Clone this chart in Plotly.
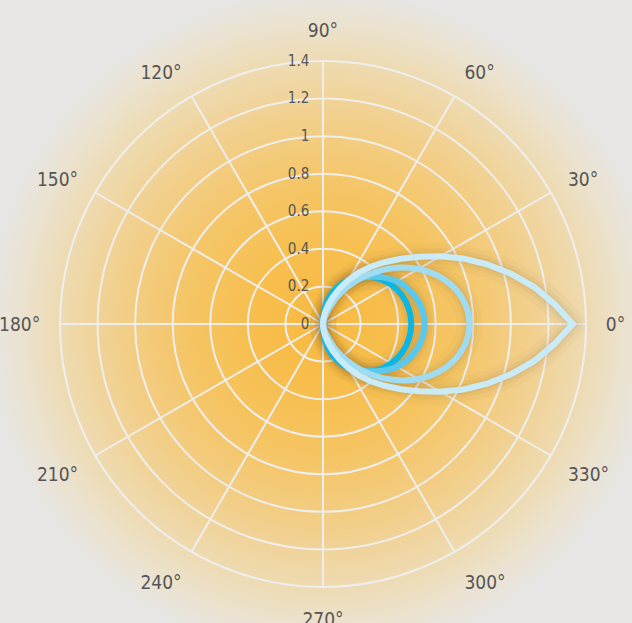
import base64
import plotly.graph_objects as go

# ---- data ----
theta_fine = [-90, -85, -80, -75, -70, -65, -60, -55, -50, -45, -40, -35, -30, -25, -20, -15, -10, -5,
              0, 5, 10, 15, 20, 25, 30, 35, 40, 45, 50, 55, 60, 65, 70, 75, 80, 85, 90]
r_outer = [0.0, 0.025, 0.06, 0.10, 0.15, 0.21, 0.27, 0.335, 0.40, 0.465, 0.54, 0.625, 0.72, 0.825, 0.93, 1.035, 1.14, 1.235,
           1.33, 1.235, 1.14, 1.035, 0.93, 0.825, 0.72, 0.625, 0.54, 0.465, 0.40, 0.335, 0.27, 0.21, 0.15, 0.10, 0.06, 0.025, 0.0]

theta_coarse = [-90, -80, -70, -60, -50, -40, -30, -20, -10, 0, 10, 20, 30, 40, 50, 60, 70, 80, 90]
r_second = [0.0, 0.024, 0.091, 0.195, 0.322, 0.458, 0.585, 0.689, 0.756, 0.78, 0.756, 0.689, 0.585, 0.458, 0.322, 0.195, 0.091, 0.024, 0.0]
r_third = [0.0, 0.07, 0.155, 0.24, 0.32, 0.39, 0.455, 0.50, 0.53, 0.54, 0.53, 0.50, 0.455, 0.39, 0.32, 0.24, 0.155, 0.07, 0.0]
r_inner = [0.0, 0.116, 0.199, 0.27, 0.33, 0.38, 0.419, 0.447, 0.464, 0.47, 0.464, 0.447, 0.419, 0.38, 0.33, 0.27, 0.199, 0.116, 0.0]

radial_ticks = [0, 0.2, 0.4, 0.6, 0.8, 1.0, 1.2, 1.4]
radial_labels = ["0", "0.2", "0.4", "0.6", "0.8", "1", "1.2", "1.4"]
angle_ticks = [0, 30, 60, 90, 120, 150, 180, 210, 240, 270, 300, 330]
angle_labels = ["0°", "30°", "60°", "90°", "120°", "150°", "180°", "210°", "240°", "270°", "300°", "330°"]

# ---- figure ----
W, H = 632, 623
ML, MR, MT, MB = 60, 46, 61, 36
PW, PH = W - ML - MR, H - MT - MB

FONT = ("Noto Sans Condensed, DejaVu Sans Condensed, Liberation Sans Narrow, Arial Narrow, sans-serif")

fig = go.Figure()

series = [
    (theta_coarse, r_inner, "#0cb6e2", "spline"),
    (theta_coarse, r_third, "#5ac8ec", "spline"),
    (theta_coarse, r_second, "#9fdcf2", "spline"),
    (theta_fine, r_outer, "#c9ebf8", "linear"),
]

# soft shadows
for th, rr, col, shp in series:
    for w, a in ((26, 0.035), (16, 0.05), (10, 0.06)):
        fig.add_trace(go.Scatterpolar(theta=th, r=rr, mode="lines",
                                      line=dict(color=f"rgba(110,80,35,{a})", width=w, shape=shp),
                                      hoverinfo="skip", showlegend=False))
for th, rr, col, shp in series:
    fig.add_trace(go.Scatterpolar(theta=th, r=rr, mode="lines",
                                  line=dict(color=col, width=6, shape=shp),
                                  showlegend=False))

cx, cy = ML + PW / 2, MT + PH / 2
svg = f'''<svg xmlns="http://www.w3.org/2000/svg" width="{W}" height="{H}" viewBox="0 0 {W} {H}" preserveAspectRatio="none">
<defs><radialGradient id="g" gradientUnits="userSpaceOnUse" cx="{cx}" cy="{cy}" r="335">
<stop offset="0" stop-color="#f8ba40"/>
<stop offset="0.2" stop-color="#f7be4d"/>
<stop offset="0.4" stop-color="#f5c564"/>
<stop offset="0.6" stop-color="#f2ce88"/>
<stop offset="0.78" stop-color="#eedab0"/>
<stop offset="0.9" stop-color="#ebe2cf"/>
<stop offset="1" stop-color="#e7e6e4"/>
</radialGradient></defs>
<rect width="{W}" height="{H}" fill="#e7e7e9"/>
<rect width="{W}" height="{H}" fill="url(#g)"/>
</svg>'''
src = "data:image/svg+xml;base64," + base64.b64encode(svg.encode()).decode()

fig.update_layout(
    width=W, height=H,
    margin=dict(l=ML, r=MR, t=MT, b=MB),
    paper_bgcolor="#e7e7e9",
    images=[dict(source=src, xref="paper", yref="paper",
                 x=-ML / PW, y=1 + MT / PH, sizex=W / PW, sizey=H / PH,
                 xanchor="left", yanchor="top", sizing="stretch", layer="below")],
    polar=dict(
        bgcolor="rgba(0,0,0,0)",
        domain=dict(x=[0, 1], y=[0, 1]),
        radialaxis=dict(range=[0, 1.4], tickvals=radial_ticks, ticktext=radial_labels,
                        angle=90, tickangle=90, side="counterclockwise", showline=False,
                        ticks="outside", ticklen=8, tickcolor="rgba(0,0,0,0)",
                        gridcolor="#eeeeee", gridwidth=2,
                        tickfont=dict(family=FONT, size=15, color="#555555")),
        angularaxis=dict(rotation=0, direction="counterclockwise",
                         tickvals=angle_ticks, ticktext=angle_labels,
                         showline=True, linecolor="#eeeeee", linewidth=2,
                         gridcolor="#eeeeee", gridwidth=2,
                         ticks="outside", ticklen=15, tickcolor="rgba(0,0,0,0)",
                         tickfont=dict(family=FONT, size=19, color="#555555")),
    ),
)

fig.write_html("out.html", config={"displayModeBar": False},
               post_script="document.body.style.margin='0';document.body.style.background='#e7e7e9';")
